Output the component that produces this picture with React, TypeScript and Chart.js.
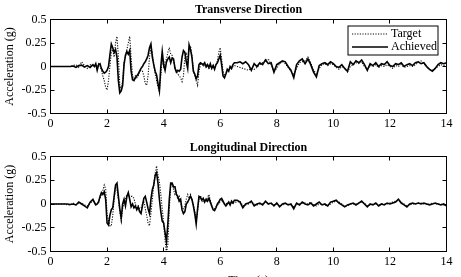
import React, { useEffect, useRef } from "react";
import { Chart, registerables } from "chart.js";

Chart.register(...registerables);

// Sample grid: [start, end, step] in seconds
const timeSegments: number[][] = [
  [0, 1.5, 0.1],
  [1.55, 6.5, 0.05],
  [6.6, 14, 0.1],
];

const xTickStep = 2;
const yTickStep = 0.25;
const xRange = [0, 14];
const yRange = [-0.5, 0.5];

const seriesLabels = ["Target", "Achieved"];
const panelTitles = ["Transverse Direction", "Longitudinal Direction"];
const yAxisTitle = "Acceleration (g)";
const xAxisTitle = "Time (s)";

// Transverse direction
const transverseTarget = [
  0, 0, 0, 0, 0, 0, 0, 0, 0.01, 0.02, -0.01, 0.05, 0.01, -0.02, 0.02, 0.01,
  0.0, 0.02, -0.02, 0.03, 0.01, -0.04, -0.1, -0.15, -0.22, -0.25,
  -0.15, 0.0, 0.15, 0.18, 0.1, 0.25, 0.32, 0.1, -0.2, -0.24,
  -0.15, 0.05, 0.1, 0.18, 0.25, 0.32, 0.1, -0.1, -0.13, -0.1,
  -0.12, -0.1, -0.06, -0.04, -0.05, -0.1, -0.18, -0.2, -0.1, 0.1,
  0.2, 0.15, 0.02, -0.08, -0.15, -0.22, -0.27, -0.1, 0.08, 0.0,
  0.05, 0.08, 0.15, 0.2, 0.13, 0.12, 0.05, 0.0, -0.05, -0.08,
  -0.1, -0.12, -0.16, -0.1, 0.1, 0.15, 0.05, 0.2, 0.22, 0.12,
  -0.03, -0.1, -0.15, -0.2, -0.05, 0.02, 0.03, 0.0, 0.02, -0.01,
  0.01, -0.02, 0.0, -0.01, 0.02, -0.02, 0.01, 0.06, 0.15, 0.2,
  0.08, -0.05, -0.1, -0.08, -0.05, -0.04, -0.02, -0.03, 0.0, 0.01,
  0.0, -0.01, -0.02, -0.03, -0.04, -0.02, -0.03, -0.01, 0.02, 0.04,
  0.06, 0.08, 0.02, -0.05, -0.02, 0.03, 0.05, 0.03, -0.01, -0.05,
  -0.09, -0.02, 0.04, 0.05, 0.06, 0.1, 0.04, -0.04, -0.08, -0.02,
  0.02, 0.03, 0.01, 0.03, 0.02, -0.01, -0.03, 0.0, -0.02, -0.06,
  0.0, 0.02, 0.04, 0.03, 0.05, 0.0, -0.03, 0.01, 0.0, 0.02,
  -0.01, 0.01, 0.0, 0.02, 0.0, -0.02, 0.01, 0.0, 0.02, -0.01,
  0.0, 0.01, 0.0, 0.02, 0.04, 0.06, 0.03, -0.01, -0.03, -0.04,
  -0.02, 0.0, 0.02, 0.01, 0.02,
];

const transverseAchieved = [
  0, 0, 0, 0, 0, 0, 0, 0, 0.005, -0.01, 0.01, 0.015, -0.005, 0.01, -0.01, 0.02,
  0.0, 0.03, -0.04, 0.02, 0.03, -0.02, -0.05, -0.07, -0.06, -0.04,
  0.0, 0.12, 0.24, 0.2, 0.15, 0.18, 0.1, -0.15, -0.28, -0.26,
  -0.2, 0.02, 0.12, 0.16, 0.13, 0.17, -0.05, -0.14, -0.15, -0.12,
  -0.1, -0.08, -0.05, -0.02, 0.0, 0.03, 0.05, 0.08, 0.12, 0.2,
  0.24, 0.1, 0.02, -0.05, -0.09, -0.18, -0.26, 0.0, 0.16, 0.02,
  -0.04, 0.05, 0.08, 0.1, 0.04, 0.09, 0.08, -0.02, -0.06, -0.04,
  -0.05, -0.03, 0.1, 0.17, 0.15, 0.05, -0.02, 0.23, 0.18, 0.1,
  -0.05, -0.08, -0.13, -0.1, 0.02, 0.04, 0.03, 0.02, 0.04, 0.0,
  0.02, -0.01, 0.03, -0.02, 0.01, -0.03, 0.02, 0.04, 0.08, 0.12,
  0.02, -0.1, -0.12, -0.08, -0.03, -0.05, 0.0, -0.02, 0.02, 0.04,
  0.04, 0.05, 0.03, 0.05, 0.02, -0.04, 0.03, 0.0, 0.04, 0.02,
  0.07, 0.03, 0.04, -0.06, 0.02, 0.04, 0.06, 0.05, 0.0, -0.04,
  -0.12, 0.02, 0.06, 0.08, 0.03, 0.08, 0.02, -0.06, -0.11, 0.01,
  0.03, 0.04, 0.02, 0.05, 0.03, 0.0, -0.01, 0.02, -0.02, -0.05,
  0.05, 0.02, 0.06, 0.04, 0.07, 0.02, -0.04, 0.03, 0.01, 0.04,
  0.0, 0.03, 0.02, 0.05, 0.01, 0.0, 0.03, 0.02, 0.04, 0.0,
  0.02, 0.03, 0.01, 0.04, 0.05, 0.03, 0.04, 0.0, -0.03, -0.05,
  -0.02, 0.02, 0.04, 0.03, 0.04,
];

// Longitudinal direction
const longitudinalTarget = [
  0, 0, 0, 0, 0, 0, -0.01, -0.01, 0.01, -0.01, 0.01, 0.01, -0.01, -0.02, 0.01, 0.03,
  0.01, -0.01, 0.0, 0.03, 0.06, 0.1, 0.14, 0.2, 0.16, -0.1,
  -0.18, -0.23, -0.23, -0.12, 0.05, 0.18, 0.15, 0.05, -0.08, -0.18,
  -0.05, 0.02, 0.05, 0.1, 0.09, 0.07, 0.08, 0.08, 0.06, 0.0,
  -0.04, -0.02, -0.05, -0.04, 0.0, 0.03, -0.05, -0.12, -0.2, -0.23,
  -0.1, 0.05, 0.2, 0.32, 0.4, 0.3, 0.23, 0.1, -0.05, -0.2,
  -0.38, -0.52, -0.42, -0.05, 0.18, 0.22, 0.15, 0.1, 0.12, 0.05,
  0.08, 0.02, -0.04, -0.05, -0.02, 0.05, 0.1, 0.06, 0.1, 0.04,
  0.0, -0.08, -0.18, -0.08, 0.05, 0.09, 0.05, 0.02, 0.04, 0.03,
  0.07, 0.1, 0.04, -0.03, -0.05, -0.05, -0.03, -0.01, 0.0, 0.02,
  0.04, 0.02, 0.0, 0.01, 0.0, 0.01, 0.0, 0.02, 0.0, 0.02,
  0.02, 0.03, -0.02, -0.01, 0.0, 0.02, 0.0, -0.01, 0.0, 0.0,
  0.02, 0.01, 0.0, -0.01, 0.0, -0.02, -0.01, 0.0, 0.0, -0.01,
  -0.03, 0.0, 0.0, 0.01, 0.01, 0.0, 0.02, -0.01, -0.02, 0.0,
  0.0, -0.01, -0.02, 0.0, 0.02, 0.03, 0.02, 0.0, -0.02, -0.02,
  0.0, 0.0, 0.0, 0.01, 0.02, 0.01, -0.02, -0.01, 0.0, 0.0,
  -0.01, 0.0, 0.0, 0.0, 0.01, 0.02, 0.03, 0.04, 0.02, 0.0,
  -0.02, -0.01, 0.0, 0.0, 0.01, 0.01, 0.0, 0.0, 0.0, 0.01,
  0.0, 0.0, 0.0, -0.01, -0.01,
];

const longitudinalAchieved = [
  0, 0, 0, 0, 0, 0, 0, -0.005, 0, -0.01, 0.02, 0, -0.02, -0.04, 0.02, 0.05,
  0.02, -0.01, 0.0, 0.02, 0.08, 0.12, 0.1, 0.13, 0.05, -0.2,
  -0.22, -0.12, -0.06, -0.04, 0.08, 0.2, 0.22, 0.08, -0.05, -0.15,
  0.0, 0.05, -0.02, 0.08, 0.12, 0.05, -0.03, 0.0, -0.04, -0.02,
  -0.06, -0.03, -0.08, -0.1, -0.02, 0.06, 0.08, 0.02, -0.05, -0.1,
  0.05, 0.15, 0.2, 0.3, 0.33, 0.22, 0.05, -0.08, -0.18, -0.2,
  -0.3, -0.4, -0.2, 0.05, 0.22, 0.22, 0.18, 0.18, 0.1, 0.08,
  0.03, 0.05, -0.06, -0.1, -0.08, 0.0, 0.02, 0.05, 0.08, 0.05,
  -0.02, -0.1, -0.21, -0.05, 0.08, 0.07, 0.04, 0.06, 0.02, 0.05,
  0.03, 0.06, 0.02, -0.02, -0.06, -0.07, -0.04, 0.0, 0.02, 0.05,
  0.06, 0.03, 0.0, -0.02, 0.0, 0.02, -0.01, 0.03, 0.01, 0.04,
  0.04, 0.02, -0.04, 0.0, 0.01, 0.03, -0.02, 0.0, 0.01, -0.01,
  0.03, 0.0, 0.01, -0.02, 0.01, -0.03, 0.0, 0.01, -0.01, 0.0,
  -0.05, 0.01, -0.01, 0.02, 0.0, -0.01, 0.01, -0.02, 0.0, 0.02,
  -0.01, 0.0, -0.02, 0.02, 0.03, 0.04, 0.01, -0.01, -0.03, -0.01,
  0.0, 0.01, -0.01, 0.01, 0.03, 0.0, -0.03, 0.0, -0.01, 0.01,
  -0.02, 0.0, -0.01, 0.01, 0.0, 0.01, 0.02, 0.05, 0.01, -0.01,
  -0.03, 0.0, 0.01, 0.0, 0.01, 0.0, 0.01, 0.0, -0.01, 0.0,
  0.01, 0.0, -0.01, 0.0, -0.02,
];

function buildTimes(): number[] {
  const out: number[] = [];
  for (const [a, b, s] of timeSegments) {
    const n = Math.round((b - a) / s);
    for (let i = 0; i <= n; i++) out.push(+(a + i * s).toFixed(2));
  }
  return out;
}

const FONT = '"Liberation Serif", "Times New Roman", serif';

const decorPlugin = {
  id: "panelDecor",
  afterDatasetsDraw(chart: any, _args: any, opts: any) {
    const { ctx, chartArea: a, scales } = chart;
    ctx.save();
    ctx.strokeStyle = "#000";
    ctx.lineWidth = 1;
    ctx.setLineDash([]);
    ctx.strokeRect(a.left, a.top, a.right - a.left, a.bottom - a.top);
    const tl = 4;
    ctx.beginPath();
    for (const t of scales.x.ticks) {
      const px = Math.floor(scales.x.getPixelForValue(t.value)) + 0.5;
      ctx.moveTo(px, a.bottom);
      ctx.lineTo(px, a.bottom - tl);
      ctx.moveTo(px, a.top);
      ctx.lineTo(px, a.top + tl);
    }
    for (const t of scales.y.ticks) {
      const py = Math.floor(scales.y.getPixelForValue(t.value)) + 0.5;
      ctx.moveTo(a.left, py);
      ctx.lineTo(a.left + tl, py);
      ctx.moveTo(a.right, py);
      ctx.lineTo(a.right - tl, py);
    }
    ctx.stroke();

    // panel title
    ctx.fillStyle = "#000";
    ctx.font = `bold 12px ${FONT}`;
    ctx.textAlign = "center";
    ctx.textBaseline = "middle";
    ctx.fillText(opts.title, (a.left + a.right) / 2, opts.titleY);

    if (opts.legend) {
      const bx = a.right - 98.5;
      const by = a.top + 6.5;
      const bw = 90;
      const bh = 29;
      ctx.fillStyle = "#fff";
      ctx.fillRect(bx, by, bw, bh);
      ctx.strokeRect(bx, by, bw, bh);
      const ds = chart.data.datasets;
      const rows = [ds[0], ds[1]];
      rows.forEach((d: any, i: number) => {
        const y = by + 8 + i * 13;
        ctx.beginPath();
        ctx.strokeStyle = d.borderColor;
        ctx.lineWidth = d.borderWidth;
        ctx.setLineDash(d.borderDash || []);
        ctx.moveTo(bx + 4, y);
        ctx.lineTo(bx + 40, y);
        ctx.stroke();
        ctx.setLineDash([]);
        ctx.fillStyle = "#000";
        ctx.font = `12px ${FONT}`;
        ctx.textAlign = "left";
        ctx.fillText(d.label, bx + 43, y);
      });
    }
    ctx.restore();
  },
};

type PanelProps = {
  title: string;
  target: number[];
  achieved: number[];
  legend: boolean;
  showXTitle: boolean;
  top: number;
  height: number;
  plotTop: number;
  plotBottom: number;
  titleY: number;
};

function Panel(p: PanelProps) {
  const ref = useRef<HTMLCanvasElement>(null);
  useEffect(() => {
    const times = buildTimes();
    const mk = (vals: number[]) => times.map((t, i) => ({ x: t, y: vals[i] }));
    const chart = new Chart(ref.current as HTMLCanvasElement, {
      type: "line",
      data: {
        datasets: [
          {
            label: seriesLabels[0],
            data: mk(p.target),
            borderColor: "#111",
            borderWidth: 1.1,
            borderDash: [1.2, 1.4],
            pointRadius: 0,
            tension: 0,
            order: 1,
          },
          {
            label: seriesLabels[1],
            data: mk(p.achieved),
            borderColor: "#000",
            borderWidth: 1.6,
            pointRadius: 0,
            tension: 0,
            order: 0,
          },
        ],
      },
      options: {
        animation: false,
        responsive: false,
        devicePixelRatio: 1,
        events: [],
        layout: { padding: { left: 0, right: 461 - 446.5, top: p.plotTop, bottom: 0 } },
        plugins: {
          legend: { display: false },
          tooltip: { enabled: false },
          title: { display: false },
          panelDecor: { title: p.title, legend: p.legend, titleY: p.titleY },
        } as any,
        scales: {
          x: {
            type: "linear",
            min: xRange[0],
            max: xRange[1],
            grid: { display: false, drawTicks: false },
            border: { display: false },
            ticks: {
              stepSize: xTickStep,
              color: "#000",
              padding: 3,
              maxRotation: 0,
              font: { family: FONT, size: 12 },
              callback: (v: any) => `${+v}`,
            },
            title: {
              display: p.showXTitle,
              text: xAxisTitle,
              color: "#000",
              font: { family: FONT, size: 12 },
              padding: { top: 0, bottom: 0 },
            },
            afterFit: (s: any) => {
              s.height = p.height - p.plotBottom;
            },
          },
          y: {
            type: "linear",
            min: yRange[0],
            max: yRange[1],
            grid: { display: false, drawTicks: false },
            border: { display: false },
            ticks: {
              stepSize: yTickStep,
              color: "#000",
              padding: 4,
              font: { family: FONT, size: 12 },
              callback: (v: any) => `${+(+v).toFixed(2)}`,
            },
            title: {
              display: true,
              text: yAxisTitle,
              color: "#000",
              font: { family: FONT, size: 12 },
              padding: { top: 3, bottom: 0 },
            },
            afterFit: (s: any) => {
              s.width = 50.5;
            },
          },
        },
      } as any,
      plugins: [decorPlugin],
    });
    return () => chart.destroy();
  }, []);
  return (
    <canvas
      ref={ref}
      width={461}
      height={p.height}
      style={{ position: "absolute", left: 0, top: p.top, width: 461, height: p.height, display: "block" }}
    />
  );
}

export default function App() {
  return (
    <div
      style={{
        position: "fixed",
        left: 0,
        top: 0,
        width: 461,
        height: 277,
        overflow: "hidden",
        background: "#fff",
      }}
    >
      <Panel
        title={panelTitles[0]}
        target={transverseTarget}
        achieved={transverseAchieved}
        legend={true}
        showXTitle={false}
        top={0}
        height={137}
        plotTop={19.5}
        plotBottom={113.5}
        titleY={10}
      />
      <Panel
        title={panelTitles[1]}
        target={longitudinalTarget}
        achieved={longitudinalAchieved}
        legend={false}
        showXTitle={true}
        top={137}
        height={151}
        plotTop={19.5}
        plotBottom={114.5}
        titleY={11}
      />
    </div>
  );
}
